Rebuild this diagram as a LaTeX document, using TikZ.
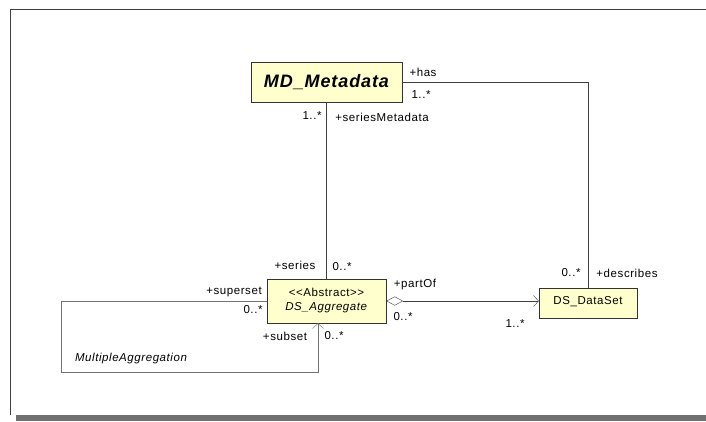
\documentclass[tikz,border=0pt]{standalone}
\usepackage{fontspec}
\setmainfont{Liberation Sans}
\newfontfamily\umlfont[LetterSpace=5]{Liberation Sans}
\usetikzlibrary{arrows.meta}
\definecolor{umlfill}{RGB}{255,255,206}
\definecolor{framegray}{RGB}{112,112,112}

\begin{document}
\begin{tikzpicture}
[
	x=1pt,y=-1pt,
	umlclass/.style={draw=black!80,fill=umlfill,inner sep=0pt,font=\umlfont\fontsize{11.5}{14}\selectfont},
	assoc/.style={draw=black!75},
	selfassoc/.style={draw=black!55},
	lbl/.style={inner sep=0pt,font=\umlfont\fontsize{11.5}{14}\selectfont},
	openhead/.style={-{Straight Barb[length=5pt,width=11pt]}},
	scale=1
]

	\useasboundingbox (0,0) rectangle (706,421);
	\draw[black!75,line width=0.8pt] (706,9) -- (10,9) -- (10,415);
	\fill[framegray] (16,415) rectangle (706,421);

	\node[umlclass,minimum width=151pt,minimum height=40pt,font=\umlfont\fontsize{18}{20}\selectfont\bfseries\itshape] at (326.5,82) (meta) {MD\_Metadata};
	\node[umlclass,minimum width=119pt,minimum height=44pt,align=center] at (326.5,301) (agg) {{<}{<}Abstract{>}{>}\\\textit{DS\_Aggregate}};
	\node[umlclass,minimum width=98pt,minimum height=30pt,text depth=6pt] at (588,303) (ds) {DS\_DataSet};

	\draw[assoc] (meta.south) -- (agg.north);
	\draw[assoc] (meta.east) -| (ds.north);
	\draw[assoc,{Diamond[open,length=17pt,width=9pt]}-{Straight Barb[length=5pt,width=11pt]}] (agg.east) -- (agg.east -| ds.west);

	\coordinate (selfcorner) at (61,372);
	\draw[selfassoc,openhead] (agg.west) -| (selfcorner) -| ([xshift=-8.5pt]agg.south);

	\node[lbl] at (423,72) (hasrole) {+has};
	\node[lbl] at (421,95) (hasmult) {1..*};
	\node[lbl] at (312,116) (smetamult) {1..*};
	\node[lbl] at (382,117) (smetarole) {+seriesMetadata};
	\node[lbl] at (295,265) (seriesrole) {+series};
	\node[lbl] at (342,267) (seriesmult) {0..*};
	\node[lbl] at (415,285) (partofrole) {+partOf};
	\node[lbl] at (403,317) (partofmult) {0..*};
	\node[lbl] at (515,324) (dsmult) {1..*};
	\node[lbl] at (571,273) (descmult) {0..*};
	\node[lbl] at (627,273) (descrole) {+describes};
	\node[lbl] at (234,292) (superrole) {+superset};
	\node[lbl] at (253,310) (supermult) {0..*};
	\node[lbl] at (285,336) (subrole) {+subset};
	\node[lbl] at (334,336) (submult) {0..*};
	\node[lbl,font=\umlfont\fontsize{11.5}{14}\selectfont\itshape] at (131,359) (selfname) {MultipleAggregation};

\end{tikzpicture}
\end{document}
